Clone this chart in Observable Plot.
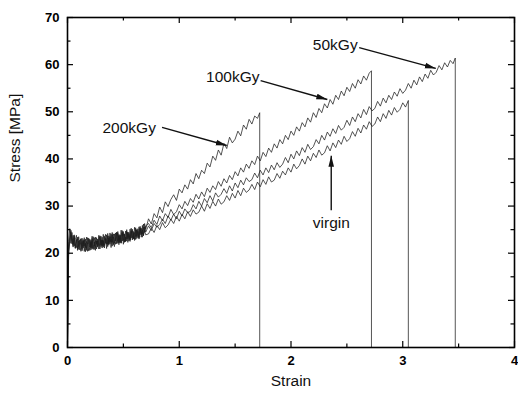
<!DOCTYPE html>
<html>
<head>
<meta charset="utf-8">
<script src="https://cdn.jsdelivr.net/npm/d3@7"></script>
<script src="https://cdn.jsdelivr.net/npm/@observablehq/plot@0.6"></script>
<style>
  html, body { margin: 0; padding: 0; background: #fff; }
  svg { display: block; }
</style>
</head>
<body>
<div id="chart"></div>
<script>
// Shared strain sampling positions
const strainGrid = [0,0.005,0.01,
0.02,0.03,0.04,0.05,0.06,0.07,0.08,0.09,0.10,0.11,
0.12,0.13,0.14,0.15,0.16,0.17,0.18,0.19,0.20,0.21,
0.22,0.23,0.24,0.25,0.26,0.27,0.28,0.29,0.30,0.31,
0.32,0.33,0.34,0.35,0.36,0.37,0.38,0.39,0.40,0.41,
0.42,0.43,0.44,0.45,0.46,0.47,0.48,0.49,0.50,0.51,
0.52,0.53,0.54,0.55,0.56,0.57,0.58,0.59,0.60,0.61,
0.62,0.63,0.64,0.65,0.66,0.67,0.68,0.69,0.70,
0.725,0.75,0.775,0.8,0.825,0.85,0.875,0.9,0.925,0.95,
0.975,1,1.025,1.05,1.075,1.1,1.125,1.15,1.175,1.2,
1.225,1.25,1.275,1.3,1.325,1.35,1.375,1.4,1.425,1.45,
1.475,1.5,1.525,1.55,1.575,1.6,1.625,1.65,1.675,1.7,
1.725,1.75,1.775,1.8,1.825,1.85,1.875,1.9,1.925,1.95,
1.975,2,2.025,2.05,2.075,2.1,2.125,2.15,2.175,2.2,
2.225,2.25,2.275,2.3,2.325,2.35,2.375,2.4,2.425,2.45,
2.475,2.5,2.525,2.55,2.575,2.6,2.625,2.65,2.675,2.7,
2.725,2.75,2.775,2.8,2.825,2.85,2.875,2.9,2.925,2.95,
2.975,3,3.025,3.05,3.075,3.1,3.125,3.15,3.175,3.2,
3.225,3.25,3.275,3.3,3.325,3.35,3.375,3.4,3.425,3.45];

const seriesNames = ["200kGy", "100kGy", "50kGy", "virgin"];

const stress200 = [0,13,22.5,
25.2,22.1,24.4,21.3,23.9,21.0,22.9,20.6,23.5,21.7,
20.4,23.2,21.1,22.8,20.3,23.4,21.9,20.5,23.0,21.2,
23.6,20.8,22.4,20.6,23.3,21.5,23.8,20.9,22.7,21.1,
24.0,21.6,23.1,21.0,24.2,22.0,23.5,21.2,24.4,22.3,
21.4,24.3,22.0,24.6,21.8,23.9,22.2,24.8,21.9,24.1,
22.6,25.0,22.3,24.4,22.5,25.3,22.8,24.6,22.7,25.4,
23.1,25.2,23.0,25.7,23.4,25.9,23.7,26.3,25.1,
27.3,26.2,28.4,27.5,29.8,28.6,30.9,29.9,31.4,32.4,
31.2,33.6,32.8,34.5,33.6,35.6,34.7,36.9,35.8,37.6,
36.9,39.1,38.3,40.6,39.7,41.9,40.8,43.3,42.2,44.6,
43.4,44.2,45.9,44.9,47.2,46.3,48.4,47.4,49.1,48.6];

const stress100 = [0,15,21.5,
23.4,24.6,22.0,23.8,21.5,22.9,23.8,21.0,22.6,20.7,
23.0,21.4,22.9,20.4,22.1,21.0,23.3,21.8,20.6,22.8,
21.1,23.5,21.5,22.7,20.9,23.0,21.6,23.7,21.8,23.4,
21.3,22.8,24.0,21.9,23.6,21.7,24.3,22.4,23.9,21.8,
24.1,22.6,24.5,22.1,23.7,22.4,24.9,22.6,24.2,22.3,
24.7,23.0,24.4,22.6,25.1,23.2,24.8,23.0,25.5,23.5,
25.0,23.3,25.6,23.9,25.3,24.0,26.2,24.4,25.8,
26.3,25.4,27.0,26.1,27.9,26.9,28.4,27.6,29.3,28.2,
28.8,30.3,29.4,31.0,30.1,31.6,30.8,32.5,31.5,33.0,
32.0,33.8,32.9,34.3,33.5,35.2,34.2,35.8,34.9,36.5,
35.6,37.3,36.4,38.1,37.2,38.9,38.0,39.6,38.8,40.6,
39.6,41.4,40.5,42.3,41.4,43.2,42.3,44.1,43.2,45.0,
44.1,45.9,45.0,46.8,45.9,47.7,46.8,48.7,47.8,49.8,
48.8,50.7,49.8,51.7,50.8,52.6,51.6,53.5,52.6,54.4,
53.4,55.2,54.3,56.0,55.0,56.8,55.9,57.6,56.7,58.2];

const stress50 = [0,12,20.5,
22.8,23.9,22.5,21.6,23.7,22.0,21.2,23.1,21.4,22.8,
21.6,20.8,22.6,21.5,23.0,20.6,22.2,23.2,21.3,22.5,
20.9,22.4,23.3,21.2,22.6,21.3,22.9,23.5,21.4,22.8,
21.7,23.6,22.1,23.9,21.9,23.2,22.0,24.1,22.3,23.5,
22.1,23.3,24.2,22.5,24.0,22.2,23.6,24.4,22.7,23.9,
22.4,24.6,23.1,24.0,22.9,24.7,23.3,24.2,23.0,25.0,
23.6,24.6,23.4,25.4,24.0,25.0,23.8,25.6,24.5,
25.8,24.8,26.3,25.5,26.1,27.2,26.3,27.9,27.0,28.3,
27.3,28.9,27.9,29.4,28.6,28.9,30.3,29.4,31.0,30.0,
31.6,30.7,32.2,31.1,32.8,31.9,32.5,33.7,32.7,34.3,
33.2,34.9,33.9,35.5,34.5,36.0,35.2,35.6,37.0,36.0,
37.6,36.6,38.1,37.1,38.7,37.7,39.2,38.2,38.9,40.3,
39.2,41.0,40.0,41.7,40.7,42.4,41.4,43.1,42.0,42.6,
44.1,43.2,45.0,44.0,45.7,44.8,46.4,45.4,47.1,46.1,
46.7,48.2,47.1,48.9,47.9,49.6,48.7,50.5,49.4,51.1,
50.2,50.7,52.2,51.2,52.9,51.9,53.5,52.6,54.2,53.3,
54.9,53.9,54.6,56.0,55.0,56.7,55.7,57.4,56.4,58.0,
57.1,58.8,57.8,58.4,59.8,58.9,60.4,59.5,60.9,60.2];

const stressVirgin = [0,10,19.5,
22.4,24.9,23.0,21.9,23.3,21.1,22.6,23.4,20.8,22.3,
23.1,20.5,22.0,23.3,21.2,22.5,20.4,22.9,22.4,20.7,
23.1,21.8,20.8,23.4,21.9,22.6,20.9,22.2,23.6,21.5,
22.7,21.1,23.3,22.8,21.4,23.7,22.5,22.9,21.5,24.1,
22.9,21.9,23.5,24.3,22.2,23.8,22.1,23.6,24.6,22.4,
23.4,22.6,24.5,23.6,22.8,24.2,25.1,23.2,24.4,22.9,
25.0,24.3,23.2,25.2,24.6,23.4,25.5,24.7,23.9,
24.1,25.3,24.4,25.9,25.0,26.5,25.4,26.0,27.2,26.3,
27.8,26.8,28.2,27.3,28.8,27.8,29.2,28.3,28.7,30.0,
28.9,30.5,29.5,31.0,30.0,31.5,30.4,30.9,32.2,31.2,
32.7,31.7,33.3,32.2,33.8,32.9,33.4,34.6,33.5,35.1,
34.1,35.6,34.6,36.2,35.1,35.5,36.9,35.9,37.4,36.6,
38.1,37.2,38.9,37.9,38.6,40.0,38.9,40.6,39.6,41.2,
40.3,41.9,40.8,41.3,42.8,41.7,43.4,42.4,44.0,43.1,
44.8,43.7,44.3,45.8,44.8,46.5,45.5,47.2,46.3,47.9,
46.9,47.4,48.9,47.9,49.6,48.6,50.3,49.3,50.9,49.9,
50.5,51.9,51.0];

// fracture points
const breakStrain = [1.72, 2.72, 3.47, 3.05];
const breakStress = [49.8, 58.7, 61.4, 52.4];

// Annotation labels and arrows
const labelText = ["200kGy", "100kGy", "50kGy", "virgin"];
const labelX = [0.552, 1.479, 2.396, 2.361];
const labelY = [46.45, 57.3, 64.2, 26.5];
const arrowX1 = [0.846, 1.728, 2.61, 2.36];
const arrowY1 = [46.7, 56.6, 63.6, 29.1];
const arrowX2 = [1.425, 2.325, 3.296, 2.36];
const arrowY2 = [42.85, 52.6, 59.2, 40.7];

// Tick values
const xMajor = [0, 1, 2, 3, 4];
const xMinor = [0.5, 1.5, 2.5, 3.5];
const yMajor = [0, 10, 20, 30, 40, 50, 60, 70];
const yMinor = [5, 15, 25, 35, 45, 55, 65];

const allStress = [stress200, stress100, stress50, stressVirgin];
const rows = [];
allStress.forEach((arr, i) => {
  arr.forEach((v, j) => { if (j < strainGrid.length) rows.push({series: seriesNames[i], strain: strainGrid[j], stress: v}); });
  rows.push({series: seriesNames[i], strain: breakStrain[i], stress: breakStress[i]});
  rows.push({series: seriesNames[i], strain: breakStrain[i], stress: 0});
});
const labels = labelText.map((t, i) => ({t, x: labelX[i], y: labelY[i]}));
const arrows = arrowX1.map((_, i) => ({x1: arrowX1[i], y1: arrowY1[i], x2: arrowX2[i], y2: arrowY2[i]}));

const W = 518, H = 393, mL = 67, mR = 4, mT = 17, mB = 46;
const innerW = W - mL - mR, innerH = H - mT - mB;
const majorLen = 6, minorLen = 3.5;

const chart = Plot.plot({
  width: W, height: H,
  marginLeft: mL, marginRight: mR, marginTop: mT, marginBottom: mB,
  style: {fontFamily: "'Liberation Sans', Arial, sans-serif", background: "#fff", color: "#000"},
  x: {domain: [0, 4], axis: null},
  y: {domain: [0, 70], axis: null},
  marks: [
    Plot.line(rows, {x: "strain", y: "stress", z: "series", stroke: "#1c1c1c", strokeWidth: 0.75}),
    Plot.link(arrows, {x1: "x1", y1: "y1", x2: "x2", y2: "y2", stroke: "#111", strokeWidth: 1.4, markerEnd: "arrow"}),
    Plot.text(labels, {x: "x", y: "y", text: "t", fontSize: 15.5, fill: "#111"}),
    // inward ticks on all four sides
    Plot.tickX(xMajor, {insetTop: innerH - majorLen, stroke: "#000", strokeWidth: 1.2}),
    Plot.tickX(xMinor, {insetTop: innerH - minorLen, stroke: "#000", strokeWidth: 1.2}),
    Plot.tickX(xMajor, {insetBottom: innerH - majorLen, stroke: "#000", strokeWidth: 1.2}),
    Plot.tickX(xMinor, {insetBottom: innerH - minorLen, stroke: "#000", strokeWidth: 1.2}),
    Plot.tickY(yMajor, {insetRight: innerW - majorLen, stroke: "#000", strokeWidth: 1.2}),
    Plot.tickY(yMinor, {insetRight: innerW - minorLen, stroke: "#000", strokeWidth: 1.2}),
    Plot.tickY(yMajor, {insetLeft: innerW - majorLen, stroke: "#000", strokeWidth: 1.2}),
    Plot.tickY(yMinor, {insetLeft: innerW - minorLen, stroke: "#000", strokeWidth: 1.2}),
    Plot.axisX({ticks: xMajor, tickFormat: "d", tickSize: 0, tickPadding: 8, fontSize: 13, fontWeight: "bold", label: null}),
    Plot.axisY({ticks: yMajor, tickFormat: "d", tickSize: 0, tickPadding: 8, fontSize: 13, fontWeight: "bold", label: null}),
    Plot.text(["Strain"], {frameAnchor: "bottom", dy: 38, fontSize: 15.5, fill: "#111"}),
    Plot.text(["Stress [MPa]"], {frameAnchor: "left", dx: -52, rotate: -90, fontSize: 15.5, fill: "#111"}),
    Plot.frame({stroke: "#000", strokeWidth: 1.6})
  ]
});

// make arrowheads filled triangles
chart.querySelectorAll("marker").forEach(m => {
  m.setAttribute("viewBox", "-11 -4 12 8");
  m.setAttribute("markerUnits", "userSpaceOnUse");
  m.setAttribute("markerWidth", "12");
  m.setAttribute("markerHeight", "8");
  m.setAttribute("fill", "#111");
  m.setAttribute("stroke", "none");
  const p = m.querySelector("path");
  if (p) p.setAttribute("d", "M-11,-2.8L0,0L-11,2.8Z");
});

document.getElementById("chart").appendChild(chart);
</script>
</body>
</html>
